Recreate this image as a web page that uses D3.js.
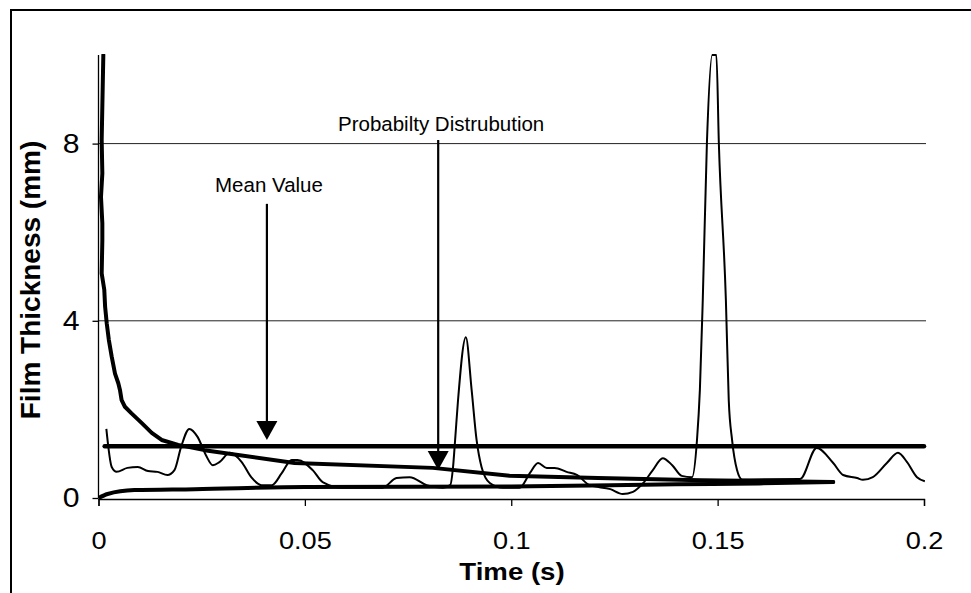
<!DOCTYPE html>
<html>
<head>
<meta charset="utf-8">
<script src="https://cdn.jsdelivr.net/npm/d3@7/dist/d3.min.js"></script>
<style>
  html, body { margin: 0; padding: 0; background: #fff; }
  svg { display: block; }
  text { font-family: "Liberation Sans", Arial, sans-serif; fill: #000; }
</style>
</head>
<body>
<svg id="chart" width="971" height="593"></svg>
<script>
// ---- data ----
const xTicks = [0, 0.05, 0.1, 0.15, 0.2];
const xTickLabels = ["0", "0.05", "0.1", "0.15", "0.2"];
const yTicks = [0, 4, 8];
const yTickLabels = ["0", "4", "8"];

// thin measured film-thickness signal
const signalT = [0.0019,0.0032,0.0044,0.0070,0.0095,0.0120,0.0143,0.0167,0.0184,0.0200,0.0220,0.0240,0.0260,0.0277,0.0293,0.0318,0.0347,0.0370,0.0395,0.0420,0.0444,0.0468,0.0482,0.0519,0.0543,0.0592,0.0688,0.0722,0.0754,0.0795,0.0834,0.0852,0.0859,0.0864,0.0871,0.0890,0.0904,0.0916,0.0928,0.0948,0.0980,0.1020,0.1045,0.1065,0.1086,0.1105,0.1134,0.1159,0.1190,0.1240,0.1270,0.1295,0.1320,0.1343,0.1367,0.1390,0.1413,0.1438,0.1450,0.1457,0.1464,0.1474,0.1487,0.1497,0.1503,0.1520,0.1527,0.1535,0.1547,0.1559,0.1578,0.1700,0.1740,0.1780,0.1804,0.1838,0.1852,0.1876,0.1910,0.1937,0.1959,0.1983,0.2002];
const signalV = [1.56,0.70,0.59,0.68,0.70,0.61,0.59,0.52,0.63,1.15,1.56,1.38,0.97,0.74,0.81,1.02,0.81,0.47,0.29,0.29,0.56,0.86,0.86,0.63,0.36,0.23,0.23,0.45,0.47,0.29,0.23,0.29,0.70,1.31,2.20,3.63,2.44,1.31,0.70,0.34,0.23,0.23,0.56,0.79,0.68,0.68,0.59,0.52,0.29,0.20,0.09,0.14,0.34,0.63,0.90,0.74,0.50,0.47,1.31,2.44,4.47,8.0,10,10,8.0,4.47,2.2,1.31,0.63,0.42,0.42,0.43,1.13,0.79,0.52,0.45,0.41,0.47,0.79,1.02,0.81,0.47,0.38];

// thick decaying curve (probability distribution)
const decayT = [0.00117,0.00077,0.00093,0.0006,0.00093,0.00093,0.00077,0.0014,0.0016,0.0020,0.0025,0.0032,0.0040,0.0048,0.0052,0.0056,0.0064,0.0080,0.0105,0.0129,0.0153,0.0193,0.0257,0.0475,0.0810,0.0996,0.1210,0.1460,0.1780];
const decayV = [10,8.08,7.33,6.8,6.2,5.82,5.07,4.7,4.32,3.94,3.57,3.19,2.81,2.59,2.44,2.21,2.06,1.91,1.69,1.47,1.31,1.2,1.08,0.79,0.68,0.50,0.45,0.40,0.36];

// thick rising curve
const riseT = [0,0.0022,0.0087,0.0233,0.05,0.1,0.14,0.16,0.178];
const riseV = [0,0.09,0.18,0.20,0.25,0.26,0.31,0.33,0.36];

// mean value line
const meanT = [0.0015, 0.2];
const meanV = [1.17, 1.17];

// annotations
const annotations = [
  {label: "Mean Value", t: 0.0408, from: 6.64, to: 1.31},
  {label: "Probabilty Distrubution", t: 0.0823, from: 8.08, to: 0.63}
];

// ---- chart ----
const svg = d3.select("#chart");
const x = d3.scaleLinear().domain([0, 0.2]).range([98.5, 924]);
const y = d3.scaleLinear().domain([0, 10]).range([498, 55]);
const FONT = "Liberation Sans, Arial, sans-serif";

// outer frame
svg.append("rect").attr("x", 11).attr("y", 10).attr("width", 990).attr("height", 620)
  .attr("fill", "none").attr("stroke", "#000").attr("stroke-width", 2);

// gridlines
svg.append("g").selectAll("line").data(yTicks.filter(d => d > 0)).join("line")
  .attr("x1", x(0)).attr("x2", x(0.2) + 2)
  .attr("y1", d => y(d)).attr("y2", d => y(d))
  .attr("stroke", "#222").attr("stroke-width", 1);

// axes
const xAxis = d3.axisBottom(x).tickValues(xTicks).tickFormat((d, i) => xTickLabels[i]).tickSize(7).tickPadding(27);
const gx = svg.append("g").attr("transform", `translate(0,${y(0) + 1})`).call(xAxis);
gx.select(".domain").attr("stroke", "#000").attr("stroke-width", 1.3);
gx.selectAll(".tick line").attr("stroke", "#000").attr("stroke-width", 1.3);
gx.selectAll("text").attr("font-size", 23).attr("font-family", FONT).attr("fill", "#000")
  .attr("transform", "scale(1.18,1)");

const yAxis = d3.axisLeft(y).tickValues(yTicks).tickFormat((d, i) => yTickLabels[i]).tickSize(6).tickPadding(10);
const gy = svg.append("g").attr("transform", `translate(${x(0)},0)`).call(yAxis);
gy.select(".domain").attr("stroke", "#000").attr("stroke-width", 1.3).attr("d", `M0,${y(10)}V${y(0)}`);
gy.selectAll(".tick line").attr("stroke", "#000").attr("stroke-width", 1.3);
gy.selectAll("text").attr("font-size", 27).attr("font-family", FONT).attr("fill", "#000")
  .attr("x", -17).attr("transform", "scale(1.12,1)");

// clip
svg.append("clipPath").attr("id", "plotclip").append("rect")
  .attr("x", x(0)).attr("y", y(10) - 1).attr("width", x(0.2) - x(0) + 10).attr("height", y(0) - y(10) + 3);

const plot = svg.append("g").attr("clip-path", "url(#plotclip)");

const mk = (T, V) => T.map((t, i) => [t, V[i]]);

plot.append("path").datum(mk(riseT, riseV))
  .attr("d", d3.line().x(d => x(d[0])).y(d => y(d[1])).curve(d3.curveMonotoneX))
  .attr("fill", "none").attr("stroke", "#000").attr("stroke-width", 4).attr("stroke-linecap", "round");

plot.append("path").datum(mk(decayT, decayV))
  .attr("d", d3.line().x(d => x(d[0])).y(d => y(d[1])))
  .attr("fill", "none").attr("stroke", "#000").attr("stroke-width", 4).attr("stroke-linejoin", "round").attr("stroke-linecap", "round");

plot.append("path").datum(mk(meanT, meanV))
  .attr("d", d3.line().x(d => x(d[0])).y(d => y(d[1])))
  .attr("fill", "none").attr("stroke", "#000").attr("stroke-width", 4.5).attr("stroke-linecap", "round");

plot.append("path").datum(mk(signalT, signalV))
  .attr("d", d3.line().x(d => x(d[0])).y(d => y(d[1])).curve(d3.curveMonotoneX))
  .attr("fill", "none").attr("stroke", "#000").attr("stroke-width", 2).attr("stroke-linejoin", "round");

// annotation arrows
const ann = svg.append("g");
annotations.forEach(a => {
  const ax = x(a.t), y0 = y(a.from), y1 = y(a.to);
  ann.append("line").attr("x1", ax).attr("x2", ax).attr("y1", y0).attr("y2", y1 - 15)
    .attr("stroke", "#000").attr("stroke-width", 2.2);
  ann.append("path").attr("d", `M${ax - 10.5},${y1 - 19}L${ax + 10.5},${y1 - 19}L${ax},${y1}Z`).attr("fill", "#000");
});
ann.append("text").attr("x", 215).attr("y", 192).attr("font-size", 20.5).text(annotations[0].label);
ann.append("text").attr("x", 338).attr("y", 131).attr("font-size", 20.5).text(annotations[1].label);

// axis titles
svg.append("text").attr("transform", "translate(512,580) scale(1.15,1)").attr("text-anchor", "middle")
  .attr("font-size", 24).attr("font-weight", "bold").text("Time (s)");
svg.append("text").attr("transform", "translate(40,280) rotate(-90)").attr("text-anchor", "middle")
  .attr("font-size", 28).attr("font-weight", "bold").text("Film Thickness (mm)");
</script>
</body>
</html>
